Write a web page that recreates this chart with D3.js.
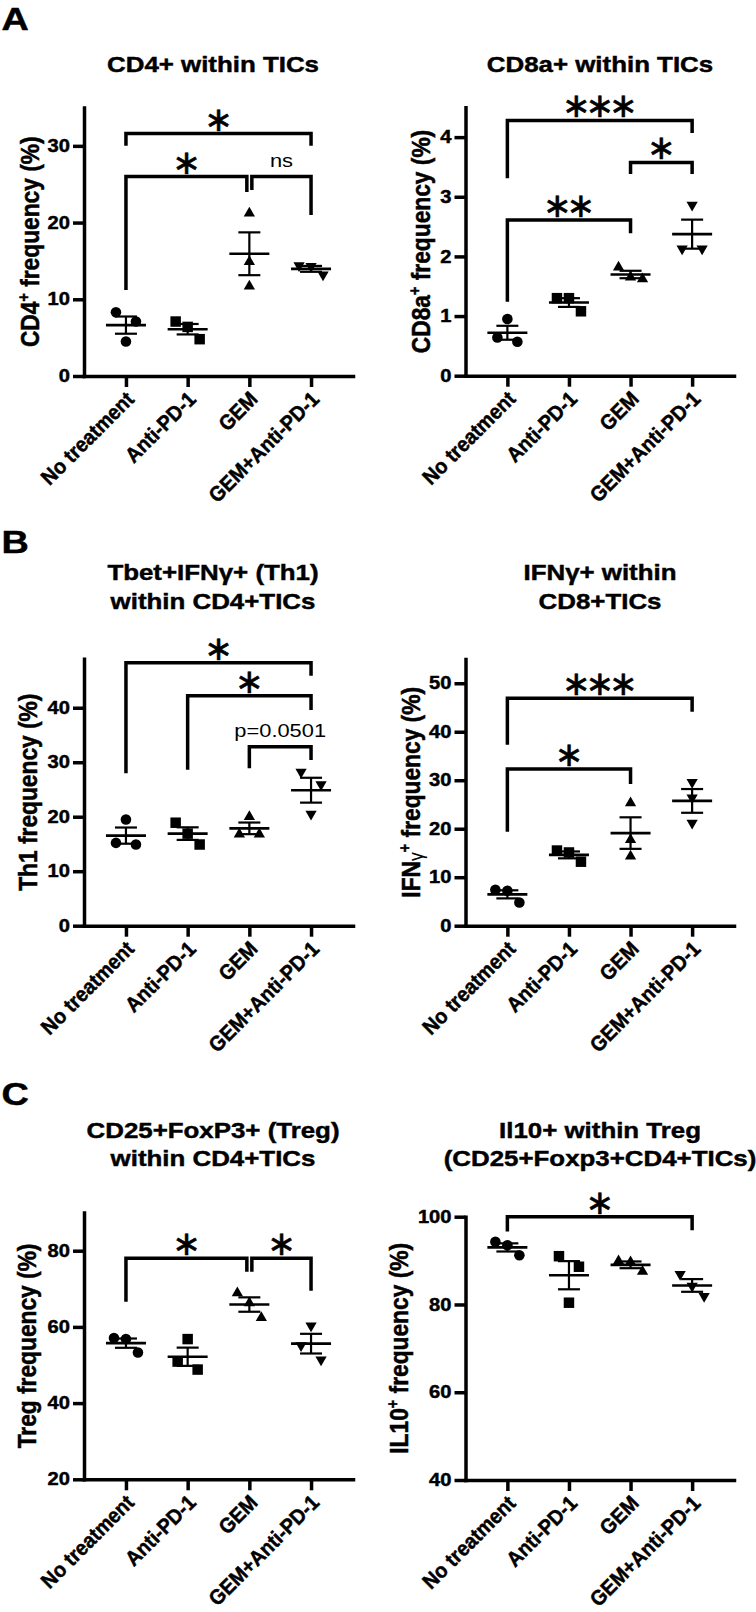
<!DOCTYPE html>
<html><head><meta charset="utf-8">
<script src="https://cdn.jsdelivr.net/npm/d3@7"></script>
<style>
html,body{margin:0;padding:0;background:#fff;}
svg{display:block;}
</style></head><body>
<svg id="chart" width="756" height="1612"></svg>
<script>
// ---------- DATA ----------
const groups = ["No treatment", "Anti-PD-1", "GEM", "GEM+Anti-PD-1"];

const cd4Values  = [[8.3, 7.1, 4.5], [6.4, 7.1, 4.8], [21.2, 14.9, 11.7], [14.4, 14.3, 13.2]];
const cd8aValues = [[0.95, 0.64, 0.57], [1.30, 1.30, 1.08], [1.82, 1.65, 1.62], [2.86, 2.13, 2.13]];
const th1Values  = [[19.5, 15.2, 14.9], [16.9, 18.9, 14.9], [20.0, 16.8, 16.8], [28.2, 25.9, 20.5]];
const ifngValues = [[7.4, 7.2, 4.8], [15.5, 15.1, 13.2], [25.3, 17.7, 14.3], [29.6, 26.4, 21.2]];
const tregValues = [[57.1, 56.8, 53.3], [56.8, 50.9, 48.8], [68.9, 66.3, 62.4], [60.3, 55.1, 51.4]];
const il10Values = [[94.3, 93.5, 91.2], [91.0, 88.6, 80.4], [89.9, 89.7, 87.5], [86.9, 84.2, 81.9]];

const cd4Ticks  = [0, 10, 20, 30];
const cd8aTicks = [0, 1, 2, 3, 4];
const th1Ticks  = [0, 10, 20, 30, 40];
const ifngTicks = [0, 10, 20, 30, 40, 50];
const tregTicks = [20, 40, 60, 80];
const il10Ticks = [40, 60, 80, 100];

const cd4Domain = [0, 35], cd8aDomain = [0, 4.5], th1Domain = [0, 49],
      ifngDomain = [0, 55], tregDomain = [20, 90], il10Domain = [40, 100];

// significance brackets (data units): bar height, leg ends
const cd4Sig = [
  {from: 0, to: 3, bar: 31.6, legA: 30.0, legB: 30.0, label: "*"},
  {from: 0, to: 2, bar: 26.0, legA: 11.2, legB: 24.0, label: "*"},
  {from: 2, to: 3, bar: 26.0, legA: 24.25, legB: 21.0, label: "ns"}];
const cd8aSig = [
  {from: 0, to: 3, bar: 4.28, legA: 3.31, legB: 4.07, label: "***"},
  {from: 2, to: 3, bar: 3.575, legA: 3.38, legB: 3.38, label: "*"},
  {from: 0, to: 2, bar: 2.61, legA: 1.24, legB: 2.39, label: "**"}];
const th1Sig = [
  {from: 0, to: 3, bar: 48.26, legA: 27.96, legB: 45.87, label: "*"},
  {from: 1, to: 3, bar: 42.2, legA: 28.6, legB: 39.6, label: "*"},
  {from: 2, to: 3, bar: 32.84, legA: 28.9, legB: 30.4, label: "p=0.0501"}];
const ifngSig = [
  {from: 0, to: 3, bar: 46.9, legA: 37.3, legB: 44.1, label: "***"},
  {from: 0, to: 2, bar: 32.3, legA: 19.4, legB: 29.2, label: "*"}];
const tregSig = [
  {from: 0, to: 2, bar: 78.0, legA: 66.6, legB: 74.5, label: "*"},
  {from: 2, to: 3, bar: 78.0, legA: 74.5, legB: 69.5, label: "*"}];
const il10Sig = [
  {from: 0, to: 3, bar: 100, legA: 96.6, legB: 96.9, label: "*"}];

const titles = [
  ["CD4+ within TICs"], ["CD8a+ within TICs"],
  ["Tbet+IFNγ+ (Th1)", "within CD4+TICs"], ["IFNγ+ within", "CD8+TICs"],
  ["CD25+FoxP3+ (Treg)", "within CD4+TICs"], ["Il10+ within Treg", "(CD25+Foxp3+CD4+TICs)"]];

const yLabels = [
  [{t: "CD4"}, {t: "+", k: "sup"}, {t: " frequency (%)"}],
  [{t: "CD8a"}, {t: "+", k: "sup"}, {t: " frequency (%)"}],
  [{t: "Th1 frequency (%)"}],
  [{t: "IFN"}, {t: "γ", k: "sub"}, {t: "+", k: "sup"}, {t: " frequency (%)"}],
  [{t: "Treg frequency (%)"}],
  [{t: "IL10"}, {t: "+", k: "sup"}, {t: " frequency (%)"}]];

const panelLetters = ["A", "B", "C"];

// ---------- LAYOUT ----------
const SX = 1.15;
const FONT = "'Liberation Sans', Arial, Helvetica, sans-serif";
const STARFONT = "'DejaVu Sans', sans-serif";
const BOLDSTROKE = 0.45;
const cols = [{axisX: 84, xEnd: 353, titleX: 213}, {axisX: 465.5, xEnd: 734, titleX: 600}];
const rows = [{letterY: 30, titleY: [72]}, {letterY: 553, titleY: [580, 608.5]}, {letterY: 1105, titleY: [1138.3, 1166]}];
const geom = [
  {yPx: [376, 107.5], labX: 39}, {yPx: [375.7, 107.3], labX: 430},
  {yPx: [925.7, 658.7], labX: 37}, {yPx: [925.7, 659], labX: 420},
  {yPx: [1479.3, 1212.6], labX: 36}, {yPx: [1480, 1216.7], labX: 408}];

const panels = [
  {values: cd4Values, ticks: cd4Ticks, domain: cd4Domain, sig: cd4Sig},
  {values: cd8aValues, ticks: cd8aTicks, domain: cd8aDomain, sig: cd8aSig},
  {values: th1Values, ticks: th1Ticks, domain: th1Domain, sig: th1Sig},
  {values: ifngValues, ticks: ifngTicks, domain: ifngDomain, sig: ifngSig},
  {values: tregValues, ticks: tregTicks, domain: tregDomain, sig: tregSig},
  {values: il10Values, ticks: il10Ticks, domain: il10Domain, sig: il10Sig}];

const svg = d3.select("#chart");
svg.append("rect").attr("width", 756).attr("height", 1612).attr("fill", "#fff");

function boldify(sel) {
  return sel.attr("font-weight", "bold").attr("stroke", "#000").attr("stroke-width", BOLDSTROKE);
}

function addText(parent, x, y, str, size, weight, anchor, sx) {
  const t = parent.append("text")
    .attr("transform", `translate(${x},${y}) scale(${sx || SX},1)`)
    .attr("font-family", FONT).attr("font-size", size).attr("font-weight", weight)
    .attr("text-anchor", anchor).attr("fill", "#000").text(str);
  if (weight === "bold") boldify(t);
  return t;
}

rows.forEach((r, ri) => addText(svg, 1.5, r.letterY, panelLetters[ri], 31, "bold", "start", 1.22));

const symbolTypes = [d3.symbolCircle, d3.symbolSquare, d3.symbolTriangle, d3.symbolTriangle];
const symbolSizes = [88, 110, 55, 55];

function dodge(vals, y) {
  const idx = vals.map((v, i) => i).sort((a, b) => vals[b] - vals[a]);
  const clusters = []; let cur = [idx[0]];
  for (let k = 1; k < idx.length; k++) {
    if (Math.abs(y(vals[idx[k]]) - y(vals[idx[k - 1]])) < 15) cur.push(idx[k]);
    else { clusters.push(cur); cur = [idx[k]]; }
  }
  clusters.push(cur);
  const off = vals.map(() => 0);
  clusters.forEach(c => {
    if (c.length === 2) { off[c[0]] = -10; off[c[1]] = 10; }
    if (c.length >= 3) { off[c[0]] = -12; off[c[1]] = 0; off[c[2]] = 12; }
  });
  return off;
}

panels.forEach((p, pi) => {
  const ri = Math.floor(pi / 2), ci = pi % 2;
  const col = cols[ci], row = rows[ri], gm = geom[pi];
  const g = svg.append("g");

  const x = d3.scalePoint().domain(groups).range([col.axisX, col.xEnd]).padding(0.68);
  const y = d3.scaleLinear().domain(p.domain).range(gm.yPx);

  // title
  titles[pi].forEach((line, li) => addText(g, col.titleX, row.titleY[li], line, 22.5, "bold", "middle"));

  // y axis
  const gy = g.append("g").attr("transform", `translate(${col.axisX},0)`)
    .call(d3.axisLeft(y).tickValues(p.ticks).tickFormat(d3.format("d"))
      .tickSize(11).tickSizeOuter(0).tickPadding(3));
  gy.attr("font-size", null).attr("font-family", null);
  gy.select(".domain").attr("stroke", "#000").attr("stroke-width", 3.5).attr("stroke-linecap", "square");
  gy.selectAll(".tick line").attr("stroke", "#000").attr("stroke-width", 3.5);
  boldify(gy.selectAll(".tick text").each(function () {
    const t = d3.select(this); const tx = +t.attr("x");
    t.attr("x", null).attr("transform", `translate(${tx},0) scale(${SX},1)`);
  }).attr("font-family", FONT).attr("font-size", 17.5).attr("fill", "#000"));

  // x axis
  const gx = g.append("g").attr("transform", `translate(0,${gm.yPx[0]})`)
    .call(d3.axisBottom(x).tickSize(11).tickSizeOuter(0));
  gx.attr("font-size", null).attr("font-family", null);
  gx.select(".domain").attr("stroke", "#000").attr("stroke-width", 3.5).attr("stroke-linecap", "square");
  gx.selectAll(".tick line").attr("stroke", "#000").attr("stroke-width", 3.5);
  boldify(gx.selectAll(".tick text")
    .attr("x", null).attr("y", null).attr("dy", null)
    .attr("transform", `translate(9,24.5) rotate(-45) scale(1.01,1.08)`)
    .attr("text-anchor", "end")
    .attr("font-family", FONT).attr("font-size", 19.5).attr("fill", "#000"));

  // y label
  const ymid = (gm.yPx[0] + gm.yPx[1]) / 2;
  const yl = boldify(g.append("text")
    .attr("transform", `translate(${gm.labX},${ymid}) rotate(-90) scale(1.035,1.15)`)
    .attr("font-family", FONT).attr("font-size", 22)
    .attr("text-anchor", "middle").attr("fill", "#000"));
  let shift = 0;
  yLabels[pi].forEach(seg => {
    const ts = yl.append("tspan").text(seg.t);
    let target = 0;
    if (seg.k === "sup") { target = -9; ts.attr("font-size", 14); }
    if (seg.k === "sub") { target = 3; ts.attr("font-size", 17).attr("font-weight", "normal").attr("stroke-width", 0); }
    ts.attr("dy", target - shift); shift = target;
  });

  // points
  p.values.forEach((vals, gi) => {
    const cx = x(groups[gi]);
    const off = dodge(vals, y);
    const sym = d3.symbol().type(symbolTypes[gi]).size(symbolSizes[gi]);
    vals.forEach((v, k) => {
      g.append("path").attr("d", sym())
        .attr("transform", `translate(${cx + off[k]},${y(v)})` + (gi === 3 ? " rotate(180)" : ""))
        .attr("fill", "#000");
    });
    const m = d3.mean(vals), sem = d3.deviation(vals) / Math.sqrt(vals.length);
    g.append("line").attr("x1", cx - 20).attr("x2", cx + 20).attr("y1", y(m)).attr("y2", y(m))
      .attr("stroke", "#000").attr("stroke-width", 2.6);
    g.append("line").attr("x1", cx).attr("x2", cx).attr("y1", y(m - sem)).attr("y2", y(m + sem))
      .attr("stroke", "#000").attr("stroke-width", 2.2);
    [m - sem, m + sem].forEach(e => g.append("line").attr("x1", cx - 11).attr("x2", cx + 11)
      .attr("y1", y(e)).attr("y2", y(e)).attr("stroke", "#000").attr("stroke-width", 2.2));
  });

  // significance brackets
  p.sig.forEach(s => {
    let xa = x(groups[s.from]), xb = x(groups[s.to]);
    if (p.sig.some(o => o !== s && o.to === s.from && o.bar === s.bar)) xa += 2.5;
    if (p.sig.some(o => o !== s && o.from === s.to && o.bar === s.bar)) xb -= 2.5;
    g.append("path")
      .attr("d", `M${xa},${y(s.legA)}V${y(s.bar)}H${xb}V${y(s.legB)}`)
      .attr("fill", "none").attr("stroke", "#000").attr("stroke-width", 3.5).attr("stroke-linejoin", "miter");
    const mx = (xa + xb) / 2, by = y(s.bar);
    if (/^\*+$/.test(s.label)) {
      const ls = -5;
      g.append("text").attr("x", mx + ls / 2).attr("y", by - 14 + 11)
        .attr("font-family", STARFONT).attr("font-size", 34).attr("letter-spacing", ls)
        .attr("text-anchor", "middle").attr("fill", "#000")
        .attr("stroke", "#000").attr("stroke-width", 0.6)
        .text(s.label.replace(/\*/g, "\u2217"));
    } else {
      addText(g, mx, by - 10, s.label, 19, "normal", "middle");
    }
  });
});
</script>
</body></html>
